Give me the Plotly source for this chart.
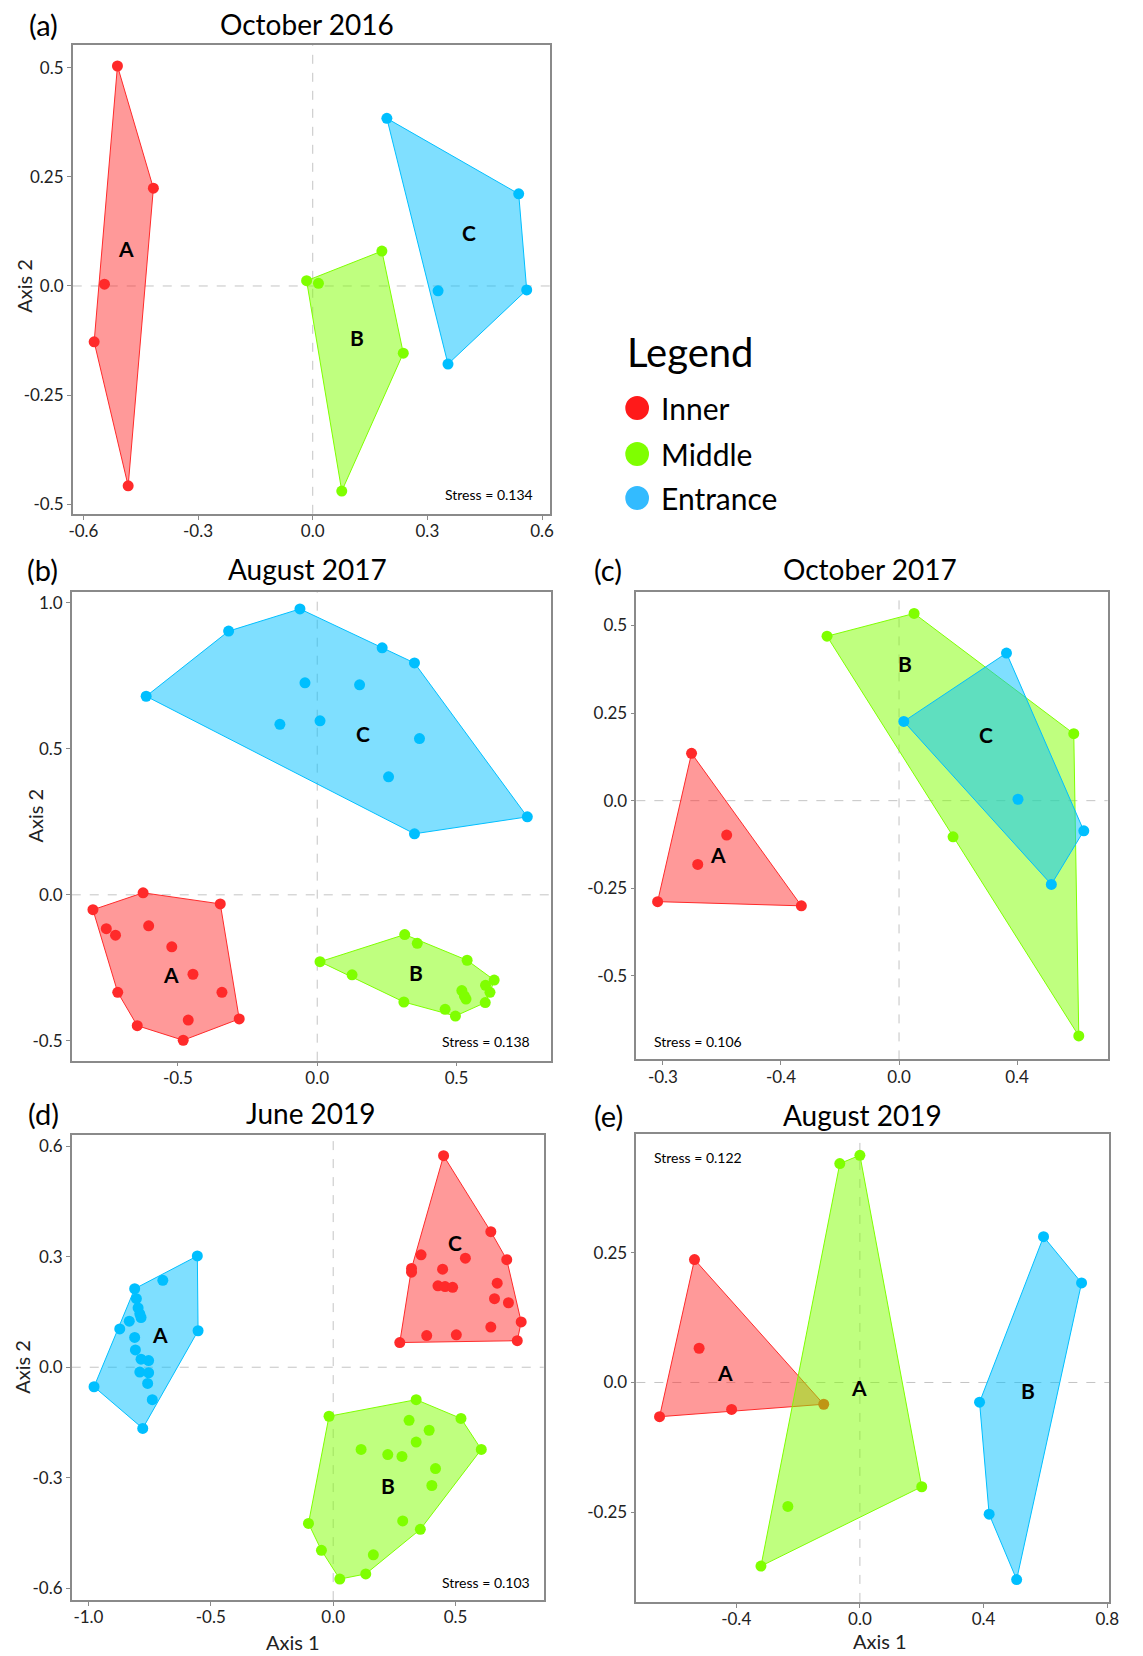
import plotly.graph_objects as go

FONT = "Lato"
W, H = 1143, 1656          # browser window; body margin removed below so figure fills it

GROUPS = ["Inner", "Middle", "Entrance"]
POINT_COL = {"Inner": "#FF2A2A", "Middle": "#7FFF00", "Entrance": "#00BFFF"}
FILL_COL = {"Inner": "rgba(255,42,42,0.48)", "Middle": "rgba(127,255,0,0.5)",
            "Entrance": "rgba(0,191,255,0.5)"}
LEGEND_COL = {"Inner": "#FF1A1A", "Middle": "#7FFF00", "Entrance": "#33BBFF"}

# ---------------- (a) October 2016 ----------------
a_inner_x = [-0.511, -0.417, -0.545, -0.572, -0.483]
a_inner_y = [0.504, 0.224, 0.004, -0.128, -0.458]
a_middle_x = [-0.016, 0.015, 0.181, 0.237, 0.076]
a_middle_y = [0.012, 0.006, 0.080, -0.154, -0.470]
a_entrance_x = [0.194, 0.539, 0.560, 0.328, 0.354]
a_entrance_y = [0.384, 0.211, -0.009, -0.011, -0.179]
a_labels = ["A", "B", "C"]
a_label_x = [-0.489, 0.115, 0.409]
a_label_y = [0.086, -0.119, 0.122]

# ---------------- (b) August 2017 ----------------
b_inner_x = [-0.805, -0.625, -0.348, -0.757, -0.724, -0.605, -0.522, -0.446, -0.716, -0.342, -0.280, -0.463, -0.646, -0.481]
b_inner_y = [-0.051, 0.007, -0.031, -0.116, -0.138, -0.106, -0.178, -0.272, -0.334, -0.334, -0.425, -0.429, -0.448, -0.498]
b_middle_x = [0.010, 0.125, 0.314, 0.359, 0.538, 0.635, 0.604, 0.620, 0.519, 0.528, 0.534, 0.603, 0.311, 0.459, 0.496]
b_middle_y = [-0.229, -0.274, -0.136, -0.166, -0.224, -0.292, -0.310, -0.334, -0.328, -0.346, -0.357, -0.369, -0.367, -0.392, -0.415]
b_entrance_x = [-0.614, -0.318, -0.062, 0.233, 0.349, -0.044, 0.152, -0.134, 0.010, 0.367, 0.256, 0.754, 0.349]
b_entrance_y = [0.680, 0.903, 0.979, 0.846, 0.794, 0.726, 0.719, 0.584, 0.596, 0.535, 0.404, 0.267, 0.209]
b_labels = ["A", "B", "C"]
b_label_x = [-0.524, 0.353, 0.165]
b_label_y = [-0.274, -0.265, 0.554]

# ---------------- (c) October 2017 ----------------
c_inner_x = [-0.703, -0.818, -0.331, -0.584, -0.682]
c_inner_y = [0.135, -0.288, -0.300, -0.098, -0.182]
c_middle_x = [-0.244, 0.051, 0.592, 0.609, 0.183]
c_middle_y = [0.469, 0.534, 0.191, -0.671, -0.103]
c_entrance_x = [0.016, 0.364, 0.626, 0.516, 0.403]
c_entrance_y = [0.226, 0.421, -0.086, -0.239, 0.004]
c_labels = ["A", "B", "C"]
c_label_x = [-0.614, 0.021, 0.293]
c_label_y = [-0.153, 0.390, 0.189]

# ---------------- (d) June 2019 ----------------
d_inner_x = [0.451, 0.644, 0.359, 0.540, 0.709, 0.320, 0.320, 0.447, 0.428, 0.457, 0.488, 0.670, 0.659, 0.716, 0.768, 0.644, 0.382, 0.503, 0.272, 0.752]
d_inner_y = [0.574, 0.368, 0.305, 0.296, 0.292, 0.268, 0.258, 0.266, 0.221, 0.219, 0.217, 0.228, 0.186, 0.175, 0.123, 0.109, 0.086, 0.088, 0.067, 0.072]
d_middle_x = [-0.017, 0.339, 0.522, 0.605, 0.310, 0.392, 0.339, 0.114, 0.223, 0.281, 0.418, 0.403, -0.101, 0.284, 0.356, -0.048, 0.164, 0.133, 0.027]
d_middle_y = [-0.133, -0.088, -0.139, -0.223, -0.144, -0.171, -0.203, -0.223, -0.237, -0.242, -0.275, -0.321, -0.424, -0.417, -0.440, -0.497, -0.509, -0.561, -0.575]
d_entrance_x = [-0.977, -0.555, -0.552, -0.778, -0.811, -0.696, -0.804, -0.797, -0.790, -0.785, -0.833, -0.872, -0.811, -0.808, -0.785, -0.754, -0.790, -0.754, -0.758, -0.739]
d_entrance_y = [-0.053, 0.302, 0.099, -0.166, 0.213, 0.236, 0.186, 0.161, 0.145, 0.135, 0.125, 0.104, 0.081, 0.047, 0.022, 0.018, -0.013, -0.015, -0.044, -0.088]
d_labels = ["A", "B", "C"]
d_label_x = [-0.706, 0.223, 0.497]
d_label_y = [0.088, -0.321, 0.339]

# ---------------- (e) August 2019 ----------------
e_inner_x = [-0.535, -0.520, -0.648, -0.415, -0.117]
e_inner_y = [0.237, 0.066, -0.066, -0.052, -0.042]
e_middle_x = [-0.065, 0.000, 0.200, -0.233, -0.320]
e_middle_y = [0.422, 0.438, -0.201, -0.239, -0.354]
e_entrance_x = [0.594, 0.717, 0.387, 0.418, 0.507]
e_entrance_y = [0.281, 0.192, -0.038, -0.254, -0.380]
e_labels = ["A", "A", "B"]
e_label_x = [-0.435, -0.003, 0.543]
e_label_y = [0.019, -0.010, -0.016]

# tick values / labels
a_xtick = [-0.6, -0.3, 0.0, 0.3, 0.6]; a_xtext = ["-0.6", "-0.3", "0.0", "0.3", "0.6"]
a_ytick = [-0.5, -0.25, 0.0, 0.25, 0.5]; a_ytext = ["-0.5", "-0.25", "0.0", "0.25", "0.5"]
b_xtick = [-0.5, 0.0, 0.5]; b_xtext = ["-0.5", "0.0", "0.5"]
b_ytick = [-0.5, 0.0, 0.5, 1.0]; b_ytext = ["-0.5", "0.0", "0.5", "1.0"]
c_xtick = [-0.8, -0.4, 0.0, 0.4]; c_xtext = ["-0.3", "-0.4", "0.0", "0.4"]
c_ytick = [-0.5, -0.25, 0.0, 0.25, 0.5]; c_ytext = ["-0.5", "-0.25", "0.0", "0.25", "0.5"]
d_xtick = [-1.0, -0.5, 0.0, 0.5]; d_xtext = ["-1.0", "-0.5", "0.0", "0.5"]
d_ytick = [-0.6, -0.3, 0.0, 0.3, 0.6]; d_ytext = ["-0.6", "-0.3", "0.0", "0.3", "0.6"]
e_xtick = [-0.4, 0.0, 0.4, 0.8]; e_xtext = ["-0.4", "0.0", "0.4", "0.8"]
e_ytick = [-0.25, 0.0, 0.25]; e_ytext = ["-0.25", "0.0", "0.25"]

panels = [
    dict(tag="(a)", title="October 2016", stress="Stress = 0.134",
         data={"Inner": (a_inner_x, a_inner_y), "Middle": (a_middle_x, a_middle_y), "Entrance": (a_entrance_x, a_entrance_y)},
         labels=(a_labels, a_label_x, a_label_y), xt=(a_xtick, a_xtext), yt=(a_ytick, a_ytext),
         xr=[-0.628, 0.621], yr=[-0.522, 0.553],
         box=(69.6, 44.6, 552.8, 513.8), tag_pos=(40, 25), title_pos=(307, 24),
         stress_pos=(0.968, 0.042, "right"), ytitle=(20, 286), xtitle=None),
    dict(tag="(b)", title="August 2017", stress="Stress = 0.138",
         data={"Inner": (b_inner_x, b_inner_y), "Middle": (b_middle_x, b_middle_y), "Entrance": (b_entrance_x, b_entrance_y)},
         labels=(b_labels, b_label_x, b_label_y), xt=(b_xtick, b_xtext), yt=(b_ytick, b_ytext),
         xr=[-0.881, 0.838], yr=[-0.568, 1.038],
         box=(68.6, 591.7, 553.5, 1060.7), tag_pos=(39, 569), title_pos=(307, 569),
         stress_pos=(0.961, 0.042, "right"), ytitle=(31, 816), xtitle=None),
    dict(tag="(c)", title="October 2017", stress="Stress = 0.106",
         data={"Inner": (c_inner_x, c_inner_y), "Middle": (c_middle_x, c_middle_y), "Entrance": (c_entrance_x, c_entrance_y)},
         labels=(c_labels, c_label_x, c_label_y), xt=(c_xtick, c_xtext), yt=(c_ytick, c_ytext),
         xr=[-0.890, 0.707], yr=[-0.738, 0.596],
         box=(640.2, 591.7, 1117.4, 1059.4), tag_pos=(611, 569), title_pos=(877, 569),
         stress_pos=(0.034, 0.039, "left"), ytitle=None, xtitle=None),
    dict(tag="(d)", title="June 2019", stress="Stress = 0.103",
         data={"Inner": (d_inner_x, d_inner_y), "Middle": (d_middle_x, d_middle_y), "Entrance": (d_entrance_x, d_entrance_y)},
         labels=(d_labels, d_label_x, d_label_y), xt=(d_xtick, d_xtext), yt=(d_ytick, d_ytext),
         xr=[-1.068, 0.860], yr=[-0.632, 0.630],
         box=(68.6, 1135.1, 546.4, 1600.1), tag_pos=(40, 1113), title_pos=(311, 1113),
         stress_pos=(0.976, 0.037, "right"), ytitle=(18, 1367), xtitle=(293, 1642)),
    dict(tag="(e)", title="August 2019", stress="Stress = 0.122",
         data={"Inner": (e_inner_x, e_inner_y), "Middle": (e_middle_x, e_middle_y), "Entrance": (e_entrance_x, e_entrance_y)},
         labels=(e_labels, e_label_x, e_label_y), xt=(e_xtick, e_xtext), yt=(e_ytick, e_ytext),
         xr=[-0.723, 0.806], yr=[-0.423, 0.479],
         box=(640.2, 1134.0, 1118.8, 1601.9), tag_pos=(612, 1115), title_pos=(869, 1115),
         stress_pos=(0.034, 0.95, "left"), ytitle=None, xtitle=(887, 1641)),
]


def convex_hull(xs, ys):
    pts = sorted(set(zip(xs, ys)))
    if len(pts) < 3:
        return pts

    def cross(o, a, b):
        return (a[0] - o[0]) * (b[1] - o[1]) - (a[1] - o[1]) * (b[0] - o[0])

    lower, upper = [], []
    for p in pts:
        while len(lower) >= 2 and cross(lower[-2], lower[-1], p) <= 0:
            lower.pop()
        lower.append(p)
    for p in reversed(pts):
        while len(upper) >= 2 and cross(upper[-2], upper[-1], p) <= 0:
            upper.pop()
        upper.append(p)
    return lower[:-1] + upper[:-1]


def px(x):
    return x / W


def py(y):
    return 1 - y / H


fig = go.Figure()
annotations = []
shapes = []
layout_axes = {}

for i, p in enumerate(panels, start=1):
    xa = "x" if i == 1 else f"x{i}"
    ya = "y" if i == 1 else f"y{i}"
    l, t, r, b = p["box"]
    for g in GROUPS:
        xs, ys = p["data"][g]
        hull = convex_hull(xs, ys)
        hx = [q[0] for q in hull] + [hull[0][0]]
        hy = [q[1] for q in hull] + [hull[0][1]]
        fig.add_trace(go.Scatter(x=hx, y=hy, mode="lines", fill="toself",
                                 fillcolor=FILL_COL[g],
                                 line=dict(color=POINT_COL[g], width=1),
                                 hoverinfo="skip", showlegend=False,
                                 xaxis=xa, yaxis=ya))
        fig.add_trace(go.Scatter(x=xs, y=ys, mode="markers", name=g,
                                 marker=dict(color=POINT_COL[g], size=11, line=dict(width=0)),
                                 showlegend=False, xaxis=xa, yaxis=ya))
    # group letters
    labs, lx, ly = p["labels"]
    for s, x, y in zip(labs, lx, ly):
        annotations.append(dict(x=x, y=y, xref=xa, yref=ya, text=f"<b>{s}</b>",
                                showarrow=False, font=dict(family=FONT, size=21, color="black")))
    # stress
    sx, sy, anc = p["stress_pos"]
    annotations.append(dict(x=sx, y=sy, xref=f"{xa} domain", yref=f"{ya} domain",
                            text=p["stress"], showarrow=False, xanchor=anc, yanchor="middle",
                            font=dict(family=FONT, size=14, color="black")))
    # tag and title
    annotations.append(dict(x=px(p["tag_pos"][0]), y=py(p["tag_pos"][1]), xref="paper", yref="paper",
                            text=p["tag"], showarrow=False, xanchor="center", yanchor="middle",
                            font=dict(family=FONT, size=29, color="black")))
    annotations.append(dict(x=px(p["title_pos"][0]), y=py(p["title_pos"][1]), xref="paper", yref="paper",
                            text=p["title"], showarrow=False, xanchor="center", yanchor="middle",
                            font=dict(family=FONT, size=28, color="black")))
    if p["ytitle"]:
        annotations.append(dict(x=px(p["ytitle"][0]), y=py(p["ytitle"][1]), xref="paper", yref="paper",
                                text="Axis 2", textangle=-90, showarrow=False,
                                xanchor="center", yanchor="middle",
                                font=dict(family=FONT, size=20, color="#222")))
    if p["xtitle"]:
        annotations.append(dict(x=px(p["xtitle"][0]), y=py(p["xtitle"][1]), xref="paper", yref="paper",
                                text="Axis 1", showarrow=False,
                                xanchor="center", yanchor="middle",
                                font=dict(family=FONT, size=20, color="#222")))
    # dashed zero lines
    shapes.append(dict(type="line", xref=xa, yref=f"{ya} domain", x0=0, x1=0, y0=0, y1=1,
                       line=dict(color="#C4C4C4", width=1, dash="dash"), layer="below"))
    shapes.append(dict(type="line", xref=f"{xa} domain", yref=ya, x0=0, x1=1, y0=0, y1=0,
                       line=dict(color="#C4C4C4", width=1, dash="dash"), layer="below"))

    axis_common = dict(showgrid=False, zeroline=False, showline=True, mirror=True,
                       linecolor="#8A8A8A", linewidth=1.5, ticks="outside", ticklen=4,
                       tickcolor="#8A8A8A", tickfont=dict(family=FONT, size=17, color="#222"))
    xkey = "xaxis" if i == 1 else f"xaxis{i}"
    ykey = "yaxis" if i == 1 else f"yaxis{i}"
    layout_axes[xkey] = dict(axis_common, domain=[px(l), px(r)], range=p["xr"],
                             tickvals=p["xt"][0], ticktext=p["xt"][1], anchor=ya,
                             ticklabelstandoff=-3)
    layout_axes[ykey] = dict(axis_common, domain=[py(b), py(t)], range=p["yr"],
                             tickvals=p["yt"][0], ticktext=p["yt"][1], anchor=xa)

# custom legend
legend_title_pos = (629, 352)
legend_marker_x = 641
legend_text_x = 663
legend_rows_y = [408, 454, 498]
annotations.append(dict(x=px(legend_title_pos[0]), y=py(legend_title_pos[1]), xref="paper", yref="paper",
                        text="Legend", showarrow=False, xanchor="left", yanchor="middle",
                        font=dict(family=FONT, size=40, color="black")))
for g, yy in zip(GROUPS, legend_rows_y):
    rad = 12
    shapes.append(dict(type="circle", xref="paper", yref="paper",
                       x0=px(legend_marker_x - rad), x1=px(legend_marker_x + rad),
                       y0=py(yy + rad), y1=py(yy - rad),
                       fillcolor=LEGEND_COL[g], line=dict(width=0)))
    annotations.append(dict(x=px(legend_text_x), y=py(yy), xref="paper", yref="paper",
                            text=g, showarrow=False, xanchor="left", yanchor="middle",
                            font=dict(family=FONT, size=30, color="black")))

fig.update_layout(width=W, height=H, margin=dict(l=0, r=0, t=0, b=0),
                  paper_bgcolor="white", plot_bgcolor="white",
                  showlegend=False, annotations=annotations, shapes=shapes,
                  font=dict(family=FONT), **layout_axes)

fig.write_html("out.html", config={"displayModeBar": False},
               post_script="document.body.style.margin='0';document.body.style.padding='0';"
                           "document.documentElement.style.overflow='hidden';")
